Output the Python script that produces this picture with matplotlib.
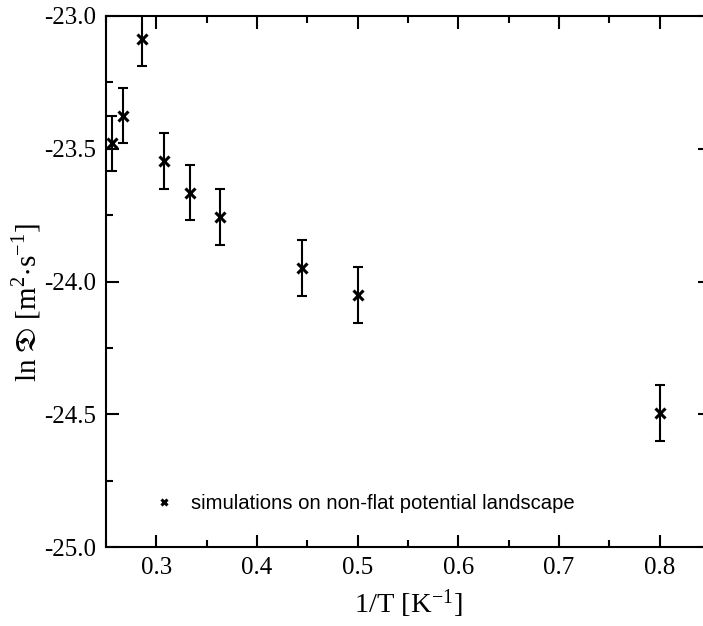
import matplotlib
matplotlib.use("Agg")
import matplotlib.pyplot as plt
from matplotlib.ticker import MultipleLocator

inv_T = [0.256, 0.2667, 0.2857, 0.3077, 0.3333, 0.3636, 0.4444, 0.5, 0.8]
ln_D = [-23.48, -23.375, -23.085, -23.545, -23.665, -23.757, -23.948, -24.05, -24.495]
ln_D_err = [0.105, 0.105, 0.105, 0.105, 0.105, 0.105, 0.105, 0.105, 0.105]
x_ticks = [0.3, 0.4, 0.5, 0.6, 0.7, 0.8]
x_ticklabels = ['0.3', '0.4', '0.5', '0.6', '0.7', '0.8']
y_ticks = [-25.0, -24.5, -24.0, -23.5, -23.0]
y_ticklabels = ['-25.0', '-24.5', '-24.0', '-23.5', '-23.0']
legend_label = "simulations on non-flat potential landscape"

plt.rcParams['mathtext.fontset'] = 'stix'
serif = ['Liberation Serif', 'DejaVu Serif']

fig = plt.figure(figsize=(7.03, 6.26), dpi=100)
ax = fig.add_axes([106/703, 79/626, 604/703, 531/626])

ax.errorbar(inv_T, ln_D, yerr=ln_D_err, fmt='none', ecolor='black',
            elinewidth=1.5, capsize=3.8, capthick=1.5)
ax.plot(inv_T, ln_D, 'x', color='black', markersize=7, markeredgewidth=2.2,
        label=legend_label)

ax.set_xlim(0.25, 0.85)
ax.set_ylim(-25.0, -23.0)
ax.xaxis.set_minor_locator(MultipleLocator(0.05))
ax.yaxis.set_minor_locator(MultipleLocator(0.25))
ax.tick_params(which='both', direction='in', top=True, right=True, width=1.5)
ax.tick_params(which='major', length=9, labelsize=18, pad=7)
ax.tick_params(which='minor', length=5)
ax.set_xticks(x_ticks)
ax.set_xticklabels(x_ticklabels, family=serif)
ax.set_yticks(y_ticks)
ax.set_yticklabels(y_ticklabels, family=serif)
for s in ax.spines.values():
    s.set_linewidth(1.5)

ax.set_xlabel(r'1/T [K$^{\mathregular{-1}}$]', fontsize=20.5, family=serif, labelpad=6)
ax.set_ylabel(r'ln $\mathfrak{D}$ [m$^{\mathregular{2}}$$\cdot$s$^{\mathregular{-1}}$]', fontsize=21,
              family=serif)
ax.yaxis.set_label_coords(-0.103, 0.46)

leg = ax.legend(loc='lower left', bbox_to_anchor=(0.04, 0.029), frameon=False,
                prop={'family': 'Liberation Sans', 'size': 14.6}, handletextpad=0.6,
                markerscale=0.7, handlelength=1.5)

fig.savefig('out.png', dpi=100)
